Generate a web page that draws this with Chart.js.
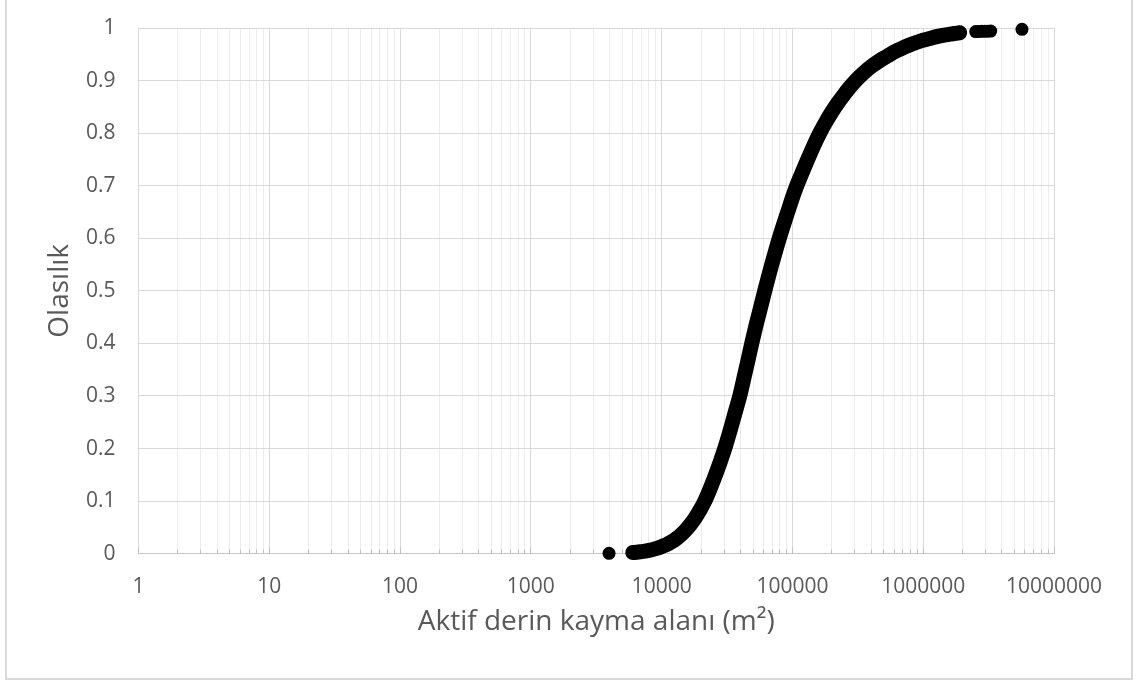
<!DOCTYPE html>
<html>
<head>
<meta charset="utf-8">
<script src="https://cdn.jsdelivr.net/npm/chart.js@4/dist/chart.umd.min.js"></script>
<style>
  html, body { margin: 0; padding: 0; background: #ffffff; }
  #wrap { position: relative; width: 1136px; height: 682px; overflow: hidden; }
  #frame { position: absolute; left: 5px; top: -2px; width: 1128px; height: 682px;
           box-sizing: border-box; border: 2px solid #d9d9d9; pointer-events: none; }
  canvas { position: absolute; left: 0; top: 0; }
</style>
</head>
<body>
<div id="wrap">
  <canvas id="c" width="1136" height="682"></canvas>
  <div id="frame"></div>
</div>
<script>
// Cumulative probability of active deep-seated slide area (m²)
const curveArea = [
  6010, 6450, 6920, 7430, 7970, 8550, 9170, 9840, 10380, 10940,
  11740, 12380, 13050, 13750, 14500, 15290, 16120, 16990, 17910, 19560,
  21360, 23330, 25470, 27810, 30370, 33170, 36230, 39560, 43190, 45530,
  48850, 52420, 56230, 61410, 64750, 69460, 74540, 79980, 85800, 92060,
  100530, 107860, 117800, 130900, 145500, 161700, 179700, 199800, 222000, 251000,
  274200, 304800, 344800, 396800, 465000, 535300, 605500, 709600, 831300, 973900,
  1121000, 1291000, 1486000, 1681000, 1901000
];
const curveProb = [
  0.0022, 0.0029, 0.0038, 0.0048, 0.0062, 0.0079, 0.0100, 0.0126, 0.0152, 0.0175,
  0.0216, 0.0252, 0.0294, 0.0339, 0.0391, 0.0450, 0.0516, 0.0588, 0.0668, 0.0820,
  0.1000, 0.1220, 0.1460, 0.1720, 0.2000, 0.2320, 0.2660, 0.3000, 0.3410, 0.3660,
  0.4000, 0.4320, 0.4620, 0.5000, 0.5220, 0.5500, 0.5770, 0.6030, 0.6270, 0.6500,
  0.6790, 0.7000, 0.7230, 0.7500, 0.7760, 0.8000, 0.8210, 0.8400, 0.8570, 0.8750,
  0.8870, 0.9000, 0.9130, 0.9260, 0.9380, 0.9470, 0.9550, 0.9630, 0.9700, 0.9760,
  0.9800, 0.9840, 0.9870, 0.9890, 0.9910
];
// Sparse observations at both tails
const tailArea = [3960, 2520000, 2657000, 2802000, 2953000, 3113000, 3282000, 5690000];
const tailProb = [0.0008, 0.9932, 0.9934, 0.9936, 0.9938, 0.9940, 0.9941, 0.9975];

const xDecades = [1, 10, 100, 1000, 10000, 100000, 1000000, 10000000];
const xTickLabels = ['1', '10', '100', '1000', '10000', '100000', '1000000', '10000000'];
const yTicks = [0, 0.1, 0.2, 0.3, 0.4, 0.5, 0.6, 0.7, 0.8, 0.9, 1];
const yTickLabels = ['0', '0.1', '0.2', '0.3', '0.4', '0.5', '0.6', '0.7', '0.8', '0.9', '1'];

const xTitle = 'Aktif derin kayma alanı (m²)';
const yTitle = 'Olasılık';

const toPoints = (xs, ys) => xs.map((x, i) => ({ x: x, y: ys[i] }));

const TEXT = '#595959';
Chart.defaults.font.family = "'Open Sans', 'Noto Sans', sans-serif";
Chart.defaults.color = TEXT;

// short inner tick marks along the bottom axis
const axisMarks = {
  id: 'axisMarks',
  beforeDatasetsDraw(chart) {
    const xs = chart.scales.x;
    const ctx = chart.ctx;
    const bottom = Math.floor(chart.chartArea.bottom) + 0.5;
    ctx.save();
    ctx.strokeStyle = '#bfbfbf';
    ctx.lineWidth = 1;
    xs.ticks.forEach(t => {
      const px = Math.floor(xs.getPixelForValue(t.value)) + 0.5;
      const len = t.major ? 6 : 4;
      ctx.beginPath();
      ctx.moveTo(px, bottom);
      ctx.lineTo(px, bottom - len);
      ctx.stroke();
    });
    ctx.restore();
  }
};

new Chart(document.getElementById('c'), {
  type: 'scatter',
  data: {
    datasets: [
      {
        data: toPoints(curveArea, curveProb),
        showLine: true,
        borderColor: '#000000',
        borderWidth: 15,
        borderCapStyle: 'round',
        borderJoinStyle: 'round',
        cubicInterpolationMode: 'monotone',
        pointRadius: 6.5,
        pointHoverRadius: 6.5,
        pointBackgroundColor: '#000000',
        pointBorderWidth: 0,
        clip: false
      },
      {
        data: toPoints(tailArea, tailProb),
        showLine: false,
        pointRadius: 6.5,
        pointHoverRadius: 6.5,
        pointBackgroundColor: '#000000',
        pointBorderWidth: 0,
        clip: false
      }
    ]
  },
  options: {
    responsive: false,
    devicePixelRatio: 1,
    animation: false,
    events: [],
    layout: { padding: { left: 0, right: 82, top: 28, bottom: 0 } },
    plugins: { legend: { display: false }, tooltip: { enabled: false } },
    scales: {
      x: {
        type: 'logarithmic',
        min: xDecades[0],
        max: xDecades[xDecades.length - 1],
        afterFit(s) { s.height = 128.3; },
        afterBuildTicks(s) {
          const ticks = [];
          xDecades.forEach((d, i) => {
            ticks.push({ value: d, major: true });
            if (i < xDecades.length - 1) {
              for (let m = 2; m <= 9; m++) ticks.push({ value: d * m, major: false });
            }
          });
          s.ticks = ticks;
        },
        ticks: {
          autoSkip: false,
          maxRotation: 0,
          minRotation: 0,
          padding: 21,
          color: TEXT,
          font: { size: 21 },
          callback(value) {
            const i = xDecades.indexOf(value);
            return i >= 0 ? xTickLabels[i] : '';
          }
        },
        grid: {
          drawTicks: false,
          color: (c) => (c.tick && c.tick.major ? '#d9d9d9' : '#ececec'),
          lineWidth: 1
        },
        border: { display: true, color: '#c8c8c8', width: 1 },
        title: {
          display: true,
          text: xTitle,
          color: TEXT,
          font: { size: 28 },
          padding: { top: 0, bottom: 43 }
        }
      },
      y: {
        type: 'linear',
        min: 0,
        max: 1,
        afterFit(s) { s.width = 138.5; },
        afterBuildTicks(s) { s.ticks = yTicks.map(v => ({ value: v })); },
        ticks: {
          padding: 5,
          color: TEXT,
          font: { size: 21 },
          callback(value) {
            const i = yTicks.findIndex(v => Math.abs(v - value) < 1e-9);
            return i >= 0 ? yTickLabels[i] : '';
          }
        },
        grid: {
          drawTicks: true,
          tickLength: 18,
          tickColor: 'rgba(0,0,0,0)',
          color: '#d9d9d9',
          lineWidth: 1
        },
        border: { display: false },
        title: {
          display: true,
          text: yTitle,
          color: TEXT,
          font: { size: 28 },
          padding: { top: 43, bottom: 0 }
        }
      }
    }
  },
  plugins: [axisMarks]
});
</script>
</body>
</html>
